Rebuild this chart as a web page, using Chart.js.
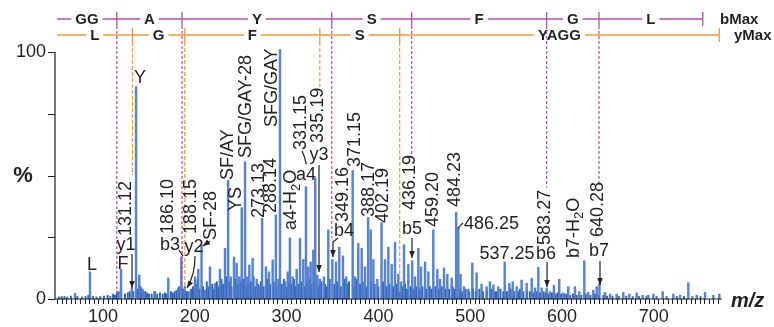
<!DOCTYPE html>
<html><head><meta charset="utf-8">
<script src="https://cdn.jsdelivr.net/npm/chart.js@4/dist/chart.umd.min.js"></script>
<style>html,body{margin:0;padding:0;background:#fff}</style>
</head><body>
<canvas id="c" width="774" height="327"></canvas>
<script>
// ---------- DATA ----------
const peakMz = [69.5,85.8,116.5,119.6,131.3,136.0,139.5,142.8,145,156.6,171.1,182,185.3,188.5,193,200.2,203.8,207.3,
211.1,216.5,222,227.4,232.9,236.3,239.1,242.7,245.6,248.5,251.1,254.7,257.2,259.4,263,267.4,270.3,273.3,277.5,280.8,284.8,288.3,291,292.8,295.8,298.3,301.2,303.6,306.6,311,314.6,318.2,321.1,323.6,326.2,329.1,331.2,333.5,336.2,340.7,345.4,349.8,353.8,357.4,361.4,365,
372,374.5,378.1,381.8,385.4,388.8,391.6,394.5,398.8,403.4,407.2,410.8,414.5,418.1,421.7,424.6,427.9,432.6,436.8,439.9,443.5,446.4,450.8,454.4,459.8,464.2,467.1,471.5,475.1,479.8,484.7,487,489.5,493.2,497.9,502.3,507,512.4,517.9,521.5,525.2,530.6,537.6,542.6,546.3,550.6,556,561.5,567,570.6,574.2,577.9,583.3,586.8,591.2,597,601.4,606.8,614.1,618.8,624.3,628.6,634.1,637.8,640.8,646.8,652.3,659.5,666.8,673.3,681.3,687.9,694,699.5,709.7,721.3,728.6,737.6,746.8,755.8,764.8,771.3];
const peakPct = [2.3,11,3,12,4.5,86,9.7,4,3,3,8.5,4.5,17,4,3,9,12,22,
3.6,13,6.3,12,20.5,48,9,17,14.5,9,37,55.6,9,13.8,16.5,8,5.3,32.7,13,11,15.8,34,8,101,6,7,11,24.7,9,12,24.6,16,45.5,13,15,19.8,49,9.7,8,9,28,16,15,21,17.5,9,
52,9,22.5,20.5,13,33,28,16,8,31,16,21,14,23,10,7,22,14,15.5,9,20.5,13,15,11,28,12,8,12.6,10,8.5,35,29,10,5,4,14.6,10.6,6,5,7,5.7,5,15,6.3,7,5,7.7,6.3,8.4,4.5,12.8,4.5,4.5,3,5.6,8,2.5,5,5,3,15.5,2.7,3.6,5,6.3,2.7,2,2,2.7,2,2.5,1.5,1.5,2,3,2,1.5,6.6,1.5,2.7,1.5,2];
const noiseMz = [52,55,58,61,65,72,77,81,84,89,93,97,101,105,108,111,113,115,117,124,127,129,133,138,141,143,146,148,150,153,156,159,162,165,167.5,169,174,176,178,180,183,187,189,191,193,196,198,
201,203,205,209,213,215,219,221,224,226,229,231,234,238,240,244,247,250,253,256,258,261,264,266,269,272,275,279,282,286,289,294,297,300,303,305,308,310,313,316,320,322,325,327,330,334,336,338,342,344,347,352,355,359,363,366,368,373,376,380,383,387,392,396,400,405,409,412,416,420,423,426,429,431,435,438,441,445,448,452,456,458,462,466,469,473,477,481,483,489,491,495,499,503,506,510,514,518,523,527,529,533,536,540,544,548,552,554,558,562,565,569,572,576,580,582,585,589,593,595,599,603,605,609,612,616,621,626,631,636,640,645,649,655,662,670,677,684,692,703,714,725,733,742,751,760,768];
const noisePct = [0.8,1,1,0.8,1.2,1,0.8,1,1.5,1,0.8,1,1.2,1.5,1,2,1.5,2.5,3,2,2.5,3,3,4,5,4,3,2.5,2,2,3,2,2.5,2,2.5,2,3,2.5,3,3.5,5,4,5,3,3,4,5,
6,8,4,5,7,5,6,4,7,5,8,6,9,7,5,8,6,7,8,5,6,7,9,5,6,7,5,8,6,7,5,6,8,5,7,6,8,5,6,7,5,6,8,6,7,5,6,7,6,5,8,6,7,5,8,6,7,5,8,6,7,5,7,6,5,7,5,6,5,6,4,5,6,4,5,4,5,4,5,4,5,4,5,4,5,4,4,5,4,4,3,4,3,4,3,4,3,3,4,3,3,4,3,3,4,3,3,4,3,3,3,2.5,3,2.5,3,2.5,2,2.5,2,2.5,2,2,2,1.5,2,1.5,1.5,2,1.5,2,1.5,1.5,1.2,1.2,1,1.2,1,1,1,1,1,1,1,1,1];
const xTickLabels = [100,200,300,400,500,600,700];
const yTickLabels = [0,100];
const bIonMz = [115.05,186.09,349.16,436.19,583.26,640.28,753.35];
const bIonLabels = ['GG','A','Y','S','F','G','L'];
const bDashEnd = [2.4,3.6,24.7,57.5,45,47];
const yIonMz = [132.10,189.12,336.19,423.22,771.37];
const yIonLabels = ['L','G','F','S','YAGG'];
const yDashEnd = [50.2,3.6,85.8,2.4];
// rotated labels: text, m/z of centre, % of lower end
const rotLabels = [
 ['131.12',125.1,25.5],['186.10',170.3,26.3],['188.15',195.9,26.3],['SF-28',217.6,23.9],
 ['SF/AY',236.2,48.2],['YS',244.9,35.6],['SFG/GAY-28',255.8,57.1],['273.13',269.9,32.8],
 ['288.14',283.0,34.8],['SFG/GAY',284.1,69.6],['a4-H|2|O',304.8,27.9],['331.15',315.7,60.3],
 ['335.19',334.2,63.2],['349.16',361.4,31.2],['371.15',374.5,53.4],['388.17',389.8,33.2],
 ['402.19',405.0,30.8],['436.19',434.4,36.0],['459.20',459.5,29.1],['484.23',483.4,37.2],
 ['583.27',581.5,21.9],['b7-H|2|O',613.1,16.6],['640.28',639.2,25.1]];
// horizontal labels: text, m/z, %, align
const hLabels = [
 ['Y',140.3,89.5,'center'],['L',88.0,13.8,'center'],['F',121.8,14.2,'center'],['y1',125.1,21.9,'center'],
 ['b3',173.0,21.9,'center'],['y2',199.1,21.1,'center'],['a4',321.1,50.2,'center'],['y3',335.3,58.3,'center'],
 ['b4',362.5,27.5,'center'],['b5',436.6,28.3,'center'],['486.25',493.2,30.4,'left'],['537.25',540.1,18.2,'center'],
 ['b6',582.6,18.2,'center'],['b7',640.3,19.4,'center']];
// arrows: list of [m/z,%] points, head flag
const arrows = [
 [[[131.6,18.2],[131.6,4.5]],true],
 [[[200.2,17.4],[200.5,10],[191.5,4.5]],true],
 [[[216.5,23.5],[208.9,21.5]],true],
 [[[335.3,54.3],[335.3,10.9]],true],
 [[[356,24.7],[350.5,23.1],[350.5,17.0]],true],
 [[[436.6,24.7],[436.6,16.6]],true],
 [[[583.7,15.0],[583.7,4.9]],true],
 [[[641.4,15.4],[641.4,5.7]],true],
 [[[182.8,19.8],[187.1,17.4]],false],
 [[[316.8,59.9],[319.5,57.5],[321.5,54.5]],false],
 [[[486.7,28.7],[492.2,30.8]],false]];

const FONT = '"Liberation Sans", Arial, sans-serif';
const PURPLE = '#b14fa6', ORANGE = '#f5963a', INK = '#231f20';

const deco = {
 id:'deco',
 afterDatasetsDraw(chart){
  const c = chart.ctx, xs = chart.scales.x, ys = chart.scales.y;
  const X = m => xs.getPixelForValue(m), Y = v => ys.getPixelForValue(v);
  const ca = chart.chartArea;
  c.save();
  // axes
  c.strokeStyle = INK; c.lineWidth = 1.2;
  c.beginPath(); c.moveTo(ca.left, Y(100)); c.lineTo(ca.left, Y(0)); c.lineTo(ca.right, Y(0)); c.stroke();
  c.lineWidth = 1;
  c.beginPath();
  for (let m = 50; m <= 770; m += 5) { const px = Math.round(X(m)) + 0.5; c.moveTo(px, Y(0)); c.lineTo(px, Y(0) + 5); }
  for (let v = 0; v <= 100; v += 25) { const py = Math.round(Y(v)) + 0.5; c.moveTo(ca.left - 7, py); c.lineTo(ca.left, py); }
  c.stroke();
  c.fillStyle = INK; c.font = '18px ' + FONT; c.textBaseline = 'middle';
  c.textAlign = 'center';
  xTickLabels.forEach(v => c.fillText(String(v), X(v), 317));
  c.textAlign = 'right';
  yTickLabels.forEach(v => c.fillText(String(v), ca.left - 9, Y(v)));
  c.font = 'bold 22px ' + FONT; c.textAlign = 'center';
  c.fillText('%', 23, Y(50));
  c.font = 'italic bold 20px ' + FONT; c.textAlign = 'left';
  c.fillText('m/z', 731, 301);

  // header rows
  function row(ions, labels, yRow, col, tickTop, tickBot, name, nameX){
   const x0 = X(50);
   c.strokeStyle = col; c.lineWidth = 1.3;
   c.beginPath(); c.moveTo(x0, yRow); c.lineTo(X(ions[ions.length-1]), yRow); c.stroke();
   c.beginPath();
   ions.forEach(m => { c.moveTo(X(m), tickTop); c.lineTo(X(m), tickBot); });
   c.stroke();
   c.font = 'bold 15px ' + FONT; c.textAlign = 'center'; c.textBaseline = 'middle';
   let prev = x0;
   labels.forEach((t, i) => {
     const xe = X(ions[i]); const cx = (prev + xe) / 2; const w = c.measureText(t).width;
     c.fillStyle = '#fff'; c.fillRect(cx - w/2 - 4, yRow - 6, w + 8, 12);
     c.fillStyle = '#231f20'; c.fillText(t, cx, yRow + 1);
     prev = xe;
   });
   c.textAlign = 'left'; c.fillText(name, nameX, yRow + 1);
  }
  row(bIonMz, bIonLabels, 19, PURPLE, 12, 26, 'bMax', 720);
  row(yIonMz, yIonLabels, 35, ORANGE, 28, 42, 'yMax', 734);
  // dashed lines
  c.lineWidth = 1.2;
  c.setLineDash([3, 2]); c.strokeStyle = PURPLE;
  bDashEnd.forEach((e, i) => { c.beginPath(); c.moveTo(X(bIonMz[i]), 26); c.lineTo(X(bIonMz[i]), Y(e)); c.stroke(); });
  c.setLineDash([4, 2]); c.strokeStyle = ORANGE;
  yDashEnd.forEach((e, i) => { c.beginPath(); c.moveTo(X(yIonMz[i]), 42); c.lineTo(X(yIonMz[i]), Y(e)); c.stroke(); });
  c.setLineDash([]);

  // labels
  c.fillStyle = INK; c.font = '18px ' + FONT;
  rotLabels.forEach(([t, m, v]) => {
    c.save(); c.translate(X(m), Y(v)); c.rotate(-Math.PI/2);
    c.textAlign = 'left'; c.textBaseline = 'middle';
    const parts = t.split('|');
    let off = 0;
    parts.forEach((p, k) => {
      if (k === 1) { c.font = '13px ' + FONT; c.fillText(p, off, 5); off += c.measureText(p).width; c.font = '18px ' + FONT; }
      else { c.fillText(p, off, 0); off += c.measureText(p).width; }
    });
    c.restore();
  });
  c.textBaseline = 'middle';
  hLabels.forEach(([t, m, v, a]) => { c.textAlign = a; c.fillText(t, X(m), Y(v)); });
  // arrows
  c.strokeStyle = INK; c.lineWidth = 1.2;
  arrows.forEach(([pts, head]) => {
    const P = pts.map(([m, v]) => [X(m), Y(v)]);
    c.beginPath(); c.moveTo(P[0][0], P[0][1]);
    if (P.length === 3 && head && Math.abs(P[1][0]-P[2][0])>2) c.quadraticCurveTo(P[1][0], P[1][1], P[2][0], P[2][1]);
    else for (let k = 1; k < P.length; k++) c.lineTo(P[k][0], P[k][1]);
    c.stroke();
    if (head) {
      const a = P[P.length-1], b = P[P.length-2];
      const ang = Math.atan2(a[1]-b[1], a[0]-b[0]);
      c.beginPath(); c.moveTo(a[0], a[1]);
      c.lineTo(a[0] - 7*Math.cos(ang) + 2.8*Math.sin(ang), a[1] - 7*Math.sin(ang) - 2.8*Math.cos(ang));
      c.lineTo(a[0] - 7*Math.cos(ang) - 2.8*Math.sin(ang), a[1] - 7*Math.sin(ang) + 2.8*Math.cos(ang));
      c.closePath(); c.fillStyle = INK; c.fill();
    }
  });
  c.restore();
 }
};

new Chart(document.getElementById('c').getContext('2d'), {
 type: 'bar',
 data: { datasets: [
  { data: noiseMz.map((m, i) => ({x: m, y: noisePct[i]})), backgroundColor: '#2f64b6', barThickness: 1.3, grouped: false, clip: false, order: 2 },
  { data: peakMz.map((m, i) => ({x: m, y: peakPct[i]})), backgroundColor: 'rgba(74,120,204,0.92)', barThickness: 1.8, grouped: false, clip: false, order: 1 }
 ]},
 options: {
  responsive: false, animation: false, devicePixelRatio: 1,
  layout: { padding: { left: 55, right: 52, top: 52, bottom: 28 } },
  scales: {
   x: { type: 'linear', min: 47.7, max: 774.3, offset: false, display: false, grid: { offset: false } },
   y: { min: 0, max: 100, display: false }
  },
  plugins: { legend: { display: false }, tooltip: { enabled: false } }
 },
 plugins: [deco]
});
</script>
</body></html>
